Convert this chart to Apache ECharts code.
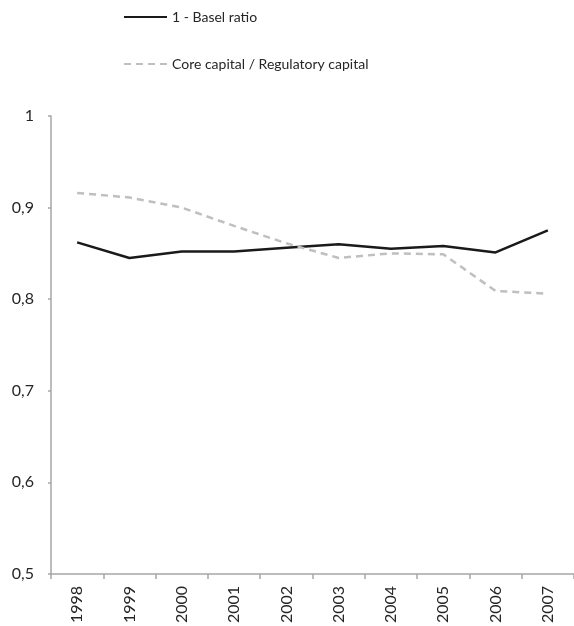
<!DOCTYPE html>
<html>
<head>
<meta charset="utf-8">
<script src="https://cdn.jsdelivr.net/npm/echarts@6/dist/echarts.min.js"></script>
<style>
  html, body { margin: 0; padding: 0; background: #fff; }
  #chart { width: 574px; height: 626px; }
</style>
</head>
<body>
<div id="chart"></div>
<script>
// Years on the x axis
const years = ['1998', '1999', '2000', '2001', '2002', '2003', '2004', '2005', '2006', '2007']

// 1 - Basel ratio
const baselRatio = [0.862, 0.845, 0.852, 0.852, 0.856, 0.860, 0.855, 0.858, 0.851, 0.875]

// Core capital / Regulatory capital
const coreCapital = [0.916, 0.911, 0.900, 0.880, 0.861, 0.845, 0.850, 0.849, 0.809, 0.806]

const chart = echarts.init(document.getElementById('chart'))

const labelFont = 'Lato, "Open Sans", sans-serif'

const option = {
  animation: false,
  legend: {
    orient: 'vertical',
    left: 118,
    top: 5,
    itemWidth: 43,
    itemHeight: 14,
    itemGap: 33,
    // hide the symbol dot, keep only the line
    itemStyle: { opacity: 0 },
    textStyle: {
      color: '#262626',
      fontSize: 14,
      fontFamily: labelFont
    },
    data: ['1 - Basel ratio', 'Core capital / Regulatory capital']
  },
  grid: {
    left: 51,
    right: -3,
    top: 116,
    bottom: 52,
    containLabel: false
  },
  xAxis: {
    type: 'category',
    data: years,
    boundaryGap: true,
    axisLine: {
      lineStyle: { color: '#a6a6a6', width: 1.5 }
    },
    axisTick: {
      show: true,
      length: 5,
      lineStyle: { color: '#a6a6a6', width: 1.5 }
    },
    axisLabel: {
      rotate: 90,
      margin: 12,
      color: '#262626',
      fontSize: 16,
      fontFamily: labelFont
    },
    splitLine: { show: false }
  },
  yAxis: {
    type: 'value',
    min: 0.5,
    max: 1,
    interval: 0.1,
    axisLine: {
      show: true,
      lineStyle: { color: '#a6a6a6', width: 1.5 }
    },
    axisTick: {
      show: true,
      length: 3,
      lineStyle: { color: '#a6a6a6', width: 1.5 }
    },
    axisLabel: {
      margin: 17,
      color: '#262626',
      fontSize: 16,
      fontFamily: labelFont,
      formatter: function (value) {
        return String(Math.round(value * 10) / 10).replace('.', ',')
      }
    },
    splitLine: { show: false }
  },
  series: [
    {
      name: '1 - Basel ratio',
      type: 'line',
      data: baselRatio,
      symbol: 'none',
      lineStyle: { color: '#1a1a1a', width: 2.5 },
      itemStyle: { color: '#1a1a1a' }
    },
    {
      name: 'Core capital / Regulatory capital',
      type: 'line',
      data: coreCapital,
      symbol: 'none',
      lineStyle: { color: '#bfbfbf', width: 2.5, type: [7, 5] },
      itemStyle: { color: '#bfbfbf' }
    }
  ]
}

chart.setOption(option)
</script>
</body>
</html>
